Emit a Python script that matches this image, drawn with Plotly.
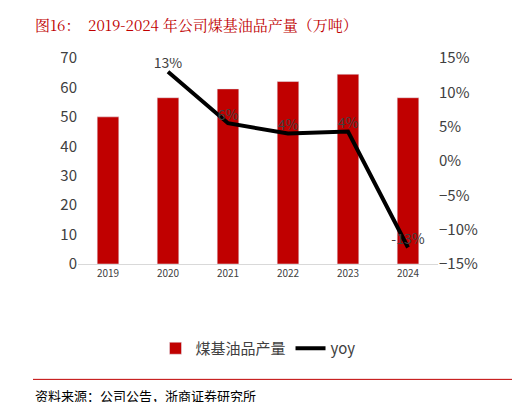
import plotly.graph_objects as go

years = ["2019", "2020", "2021", "2022", "2023", "2024"]
output = [50.0, 56.5, 59.5, 62.0, 64.5, 56.5]
yoy_years = ["2020", "2021", "2022", "2023", "2024"]
yoy = [13.0, 5.5, 4.0, 4.3, -12.6]
yoy_labels = ["13%", "6%", "4%", "4%", "-13%"]

red = "#c00000"
font = "Noto Sans CJK SC"

fig = go.Figure()
fig.add_trace(go.Bar(x=years, y=output, name="煤基油品产量", marker_color=red, width=0.36))
fig.add_trace(go.Scatter(
    x=yoy_years, y=yoy, name="yoy", yaxis="y2", mode="lines+text",
    line=dict(color="black", width=4), text=yoy_labels, textposition="top center",
    textfont=dict(size=14, color="#404040")
))

fig.update_layout(
    width=520, height=402, plot_bgcolor="white", paper_bgcolor="white",
    font=dict(family=font, color="#404040"),
    margin=dict(l=70, r=90, t=50, b=146),
    xaxis=dict(tickfont=dict(size=10), showline=True, linecolor="#d9d9d9", ticks=""),
    yaxis=dict(range=[0, 70], dtick=10, tickfont=dict(size=15), showgrid=False),
    yaxis2=dict(range=[-15, 15], dtick=5, overlaying="y", side="right", ticksuffix="%",
                tickfont=dict(size=15), showgrid=False),
    legend=dict(orientation="h", x=0.5, xanchor="center", y=-0.33, yanchor="top",
                font=dict(size=15)),
    showlegend=True,
)
fig.add_annotation(text="图16：  2019-2024 年公司煤基油品产量（万吨）", xref="paper", yref="paper",
                   x=-0.125, y=1.0, yshift=46, xanchor="left", yanchor="top", showarrow=False,
                   font=dict(size=15, color=red, family="Noto Serif CJK SC, Liberation Serif, serif"))
fig.add_annotation(text="资料来源：公司公告，浙商证券研究所", xref="paper", yref="paper",
                   x=-0.125, y=0, yshift=-120, xanchor="left", yanchor="top", showarrow=False,
                   font=dict(size=13, color="black", family=font))
fig.add_shape(type="line", xref="paper", yref="paper", x0=-0.125, x1=1.22, y0=-0.56, y1=-0.56,
              line=dict(color=red, width=1))

fig.write_html("out.html")
